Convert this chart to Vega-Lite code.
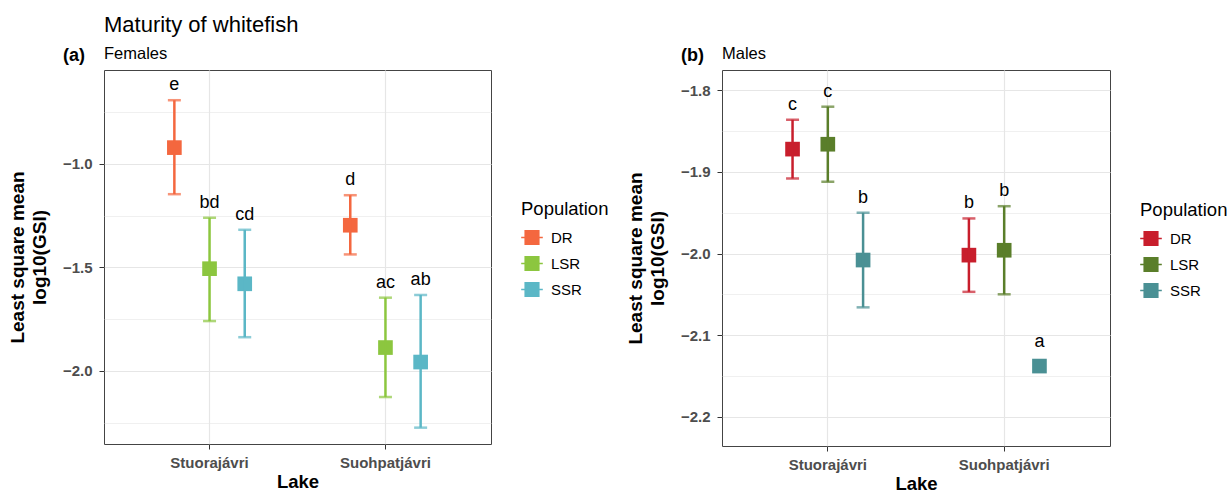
{
  "$schema": "https://vega.github.io/schema/vega-lite/v6.json",
  "padding": {"left": 7, "top": 14, "right": 0, "bottom": 0},
  "background": "white",
  "config": {
    "font": "Liberation Sans",
    "view": {"stroke": "#444444", "strokeWidth": 1},
    "axis": {
      "domain": false,
      "labelFontSize": 15,
      "labelFontWeight": "bold",
      "labelColor": "#4D4D4D",
      "tickColor": "#333333",
      "tickSize": 5,
      "tickWidth": 1,
      "titleFontSize": 19,
      "titleFontWeight": "bold",
      "titleColor": "black",
      "gridColor": "#E6E6E6"
    },
    "legend": {
      "orient": "none",
      "titleFontSize": 18.5,
      "titleFontWeight": "normal",
      "titleColor": "black",
      "labelFontSize": 15,
      "labelColor": "black",
      "symbolType": "M-1,-0.06H1V0.06H-1Z M-0.7,-0.7H0.7V0.7H-0.7Z",
      "symbolSize": 467,
      "symbolStrokeWidth": 0,
      "rowPadding": 7,
      "titlePadding": 8,
      "labelOffset": 8
    }
  },
  "title": {"text": "Maturity of whitefish", "anchor": "start", "frame": "group", "fontSize": 22, "fontWeight": "normal", "color": "black", "offset": 8},
  "datasets": {
    "females": [
      {"lake": "Stuorajávri", "population": "DR", "mean": -0.921, "lower": -1.146, "upper": -0.692, "group": "e"},
      {"lake": "Stuorajávri", "population": "LSR", "mean": -1.506, "lower": -1.759, "upper": -1.26, "group": "bd"},
      {"lake": "Stuorajávri", "population": "SSR", "mean": -1.579, "lower": -1.837, "upper": -1.318, "group": "cd"},
      {"lake": "Suohpatjávri", "population": "DR", "mean": -1.296, "lower": -1.437, "upper": -1.151, "group": "d"},
      {"lake": "Suohpatjávri", "population": "LSR", "mean": -1.887, "lower": -2.126, "upper": -1.646, "group": "ac"},
      {"lake": "Suohpatjávri", "population": "SSR", "mean": -1.957, "lower": -2.274, "upper": -1.633, "group": "ab"}
    ],
    "males": [
      {"lake": "Stuorajávri", "population": "DR", "mean": -1.872, "lower": -1.908, "upper": -1.836, "group": "c"},
      {"lake": "Stuorajávri", "population": "LSR", "mean": -1.866, "lower": -1.912, "upper": -1.82, "group": "c"},
      {"lake": "Stuorajávri", "population": "SSR", "mean": -2.008, "lower": -2.066, "upper": -1.95, "group": "b"},
      {"lake": "Suohpatjávri", "population": "DR", "mean": -2.002, "lower": -2.047, "upper": -1.957, "group": "b"},
      {"lake": "Suohpatjávri", "population": "LSR", "mean": -1.996, "lower": -2.05, "upper": -1.942, "group": "b"},
      {"lake": "Suohpatjávri", "population": "SSR", "mean": -2.138, "lower": null, "upper": null, "group": "a"}
    ]
  },
  "hconcat": [
    {
      "title": {"text": "(a)", "anchor": "start", "frame": "group", "dx": -41, "dy": 24, "fontSize": 18, "fontWeight": "bold", "color": "black", "offset": 4},
      "vconcat": [
        {
          "width": 387,
          "height": 374,
          "title": {"text": "Females", "anchor": "start", "frame": "group", "fontSize": 16.5, "fontWeight": "normal", "color": "black", "offset": 8},
          "data": {"name": "females"},
          "encoding": {
            "x": {"field": "lake", "type": "nominal", "title": "Lake",
                  "scale": {"paddingInner": 0.4, "paddingOuter": 0.3},
                  "axis": {"labelAngle": 0, "grid": true, "gridWidth": 1.2, "bandPosition": 0.5, "labelPadding": 6, "titlePadding": 2, "titleFontSize": 18.5}},
            "xOffset": {"field": "population", "type": "nominal", "scale": {"domain": ["DR", "LSR", "SSR"], "paddingInner": 0, "paddingOuter": 0}},
            "color": {"field": "population", "type": "nominal",
                      "scale": {"domain": ["DR", "LSR", "SSR"], "range": ["#F4673F", "#8CC63F", "#5BB7C6"]},
                      "legend": {"title": "Population", "legendX": 417, "legendY": 130}}
          },
          "layer": [
            {
              "mark": {"type": "square", "size": 215, "opacity": 1, "filled": true},
              "encoding": {
                "y": {"field": "mean", "type": "quantitative",
                      "title": ["Least square mean", "log10(GSI)"],
                      "scale": {"domain": [-2.353, -0.546], "nice": false, "zero": false},
                      "axis": {
                        "values": [-0.75, -1.0, -1.25, -1.5, -1.75, -2.0, -2.25],
                        "format": ".1f",
                        "labelExpr": "abs(datum.value*2-round(datum.value*2))<0.001 ? datum.label : ''",
                        "gridWidth": {"condition": {"test": "abs(datum.value*2-round(datum.value*2))<0.001", "value": 1.2}, "value": 0.6},
                        "tickOpacity": {"condition": {"test": "abs(datum.value*2-round(datum.value*2))<0.001", "value": 1}, "value": 0},
                        "titleLineHeight": 22,
                        "titlePadding": 13,
                        "labelPadding": 7
                      }}
              }
            },
            {
              "mark": {"type": "rule", "strokeWidth": 2.5},
              "encoding": {
                "y": {"field": "lower", "type": "quantitative"},
                "y2": {"field": "upper"}
              }
            },
            {
              "mark": {"type": "tick", "size": 13, "thickness": 2.5, "orient": "horizontal"},
              "encoding": {"y": {"field": "lower", "type": "quantitative"}}
            },
            {
              "mark": {"type": "tick", "size": 13, "thickness": 2.5, "orient": "horizontal"},
              "encoding": {"y": {"field": "upper", "type": "quantitative"}}
            },
            {
              "mark": {"type": "text", "fontSize": 18, "baseline": "alphabetic", "dy": -10, "color": "black"},
              "encoding": {
                "y": {"field": "upper", "type": "quantitative"},
                "text": {"field": "group"},
                "color": {"value": "black"}
              }
            }
          ]
        }
      ]
    },
    {
      "title": {"text": "(b)", "anchor": "start", "frame": "group", "dx": -41, "dy": 24, "fontSize": 18, "fontWeight": "bold", "color": "black", "offset": 4},
      "vconcat": [
        {
          "width": 388,
          "height": 376,
          "title": {"text": "Males", "anchor": "start", "frame": "group", "fontSize": 16.5, "fontWeight": "normal", "color": "black", "offset": 8},
          "data": {"name": "males"},
          "encoding": {
            "x": {"field": "lake", "type": "nominal", "title": "Lake",
                  "scale": {"paddingInner": 0.4, "paddingOuter": 0.3},
                  "axis": {"labelAngle": 0, "grid": true, "gridWidth": 1.2, "bandPosition": 0.5, "labelPadding": 6, "titlePadding": 2, "titleFontSize": 18.5}},
            "xOffset": {"field": "population", "type": "nominal", "scale": {"domain": ["DR", "LSR", "SSR"], "paddingInner": 0, "paddingOuter": 0}},
            "color": {"field": "population", "type": "nominal",
                      "scale": {"domain": ["DR", "LSR", "SSR"], "range": ["#C81E2C", "#5A7E2A", "#4A9094"]},
                      "legend": {"title": "Population", "legendX": 418, "legendY": 131}}
          },
          "layer": [
            {
              "mark": {"type": "square", "size": 215, "opacity": 1, "filled": true},
              "encoding": {
                "y": {"field": "mean", "type": "quantitative",
                      "title": ["Least square mean", "log10(GSI)"],
                      "scale": {"domain": [-2.236, -1.775], "nice": false, "zero": false},
                      "axis": {
                        "values": [-1.8, -1.85, -1.9, -1.95, -2.0, -2.05, -2.1, -2.15, -2.2],
                        "format": ".1f",
                        "labelExpr": "abs(datum.value*10-round(datum.value*10))<0.001 ? datum.label : ''",
                        "gridWidth": {"condition": {"test": "abs(datum.value*10-round(datum.value*10))<0.001", "value": 1.2}, "value": 0.6},
                        "tickOpacity": {"condition": {"test": "abs(datum.value*10-round(datum.value*10))<0.001", "value": 1}, "value": 0},
                        "titleLineHeight": 22,
                        "titlePadding": 13,
                        "labelPadding": 7
                      }}
              }
            },
            {
              "mark": {"type": "rule", "strokeWidth": 2.5},
              "encoding": {
                "y": {"field": "lower", "type": "quantitative"},
                "y2": {"field": "upper"}
              }
            },
            {
              "mark": {"type": "tick", "size": 13, "thickness": 2.5, "orient": "horizontal"},
              "encoding": {"y": {"field": "lower", "type": "quantitative"}}
            },
            {
              "mark": {"type": "tick", "size": 13, "thickness": 2.5, "orient": "horizontal"},
              "encoding": {"y": {"field": "upper", "type": "quantitative"}}
            },
            {
              "mark": {"type": "text", "fontSize": 18, "baseline": "alphabetic", "dy": -10, "color": "black"},
              "encoding": {
                "y": {"field": "upper", "type": "quantitative"},
                "text": {"field": "group"},
                "color": {"value": "black"}
              }
            },
            {
              "transform": [{"filter": "datum.upper == null"}],
              "mark": {"type": "text", "fontSize": 18, "baseline": "alphabetic", "dy": -19, "color": "black"},
              "encoding": {
                "y": {"field": "mean", "type": "quantitative"},
                "text": {"field": "group"},
                "color": {"value": "black"}
              }
            }
          ]
        }
      ]
    }
  ],
  "spacing": 16,
  "resolve": {"scale": {"color": "independent", "x": "independent", "y": "independent", "xOffset": "independent"}, "legend": {"color": "independent"}}
}
